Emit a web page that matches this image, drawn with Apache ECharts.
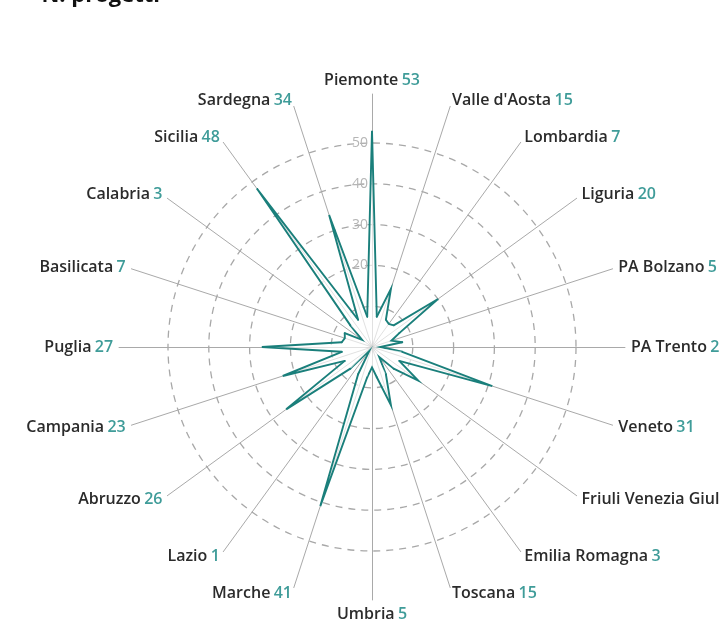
<!DOCTYPE html>
<html><head><meta charset="utf-8">
<script src="https://cdn.jsdelivr.net/npm/echarts@6/dist/echarts.min.js"></script>
<style>html,body{margin:0;padding:0;background:#fff}#c{width:720px;height:627px}</style>
</head><body><div id="c"></div>
<script>
// clockwise order starting at the top
const regions = ["Piemonte","Valle d'Aosta","Lombardia","Liguria","PA Bolzano","PA Trento","Veneto","Friuli Venezia Giulia","Emilia Romagna","Toscana","Umbria","Marche","Lazio","Abruzzo","Campania","Puglia","Basilicata","Calabria","Sicilia","Sardegna"];
const projects = [53,15,7,20,5,2,31,14,3,15,5,41,1,26,23,27,7,3,48,34];
const shownTickLabels = ["20","30","40","50"];
const axisMax = 62;
const ringMax = 50;

const n = regions.length;
const step = 360 / n;
// ECharts radar runs counter-clockwise: keep first item at top, reverse the rest
const order = [0].concat(regions.map((_,i)=>i).slice(1).reverse());
const indNames = order.map(i=>regions[i]);
const valueOf = {};
regions.forEach((r,i)=>valueOf[r]=projects[i]);

const font = '"Open Sans", "Noto Sans", sans-serif';
const center = [372, 347];
const unitPx = 4.08;
const spikeBase = 7.5;   // radius (in axis units) of the spike bases
const teal = '#1a7f7b';

const chart = echarts.init(document.getElementById('c'), null, {renderer:'canvas'});
chart.setOption({
  animation:false,
  backgroundColor:'#fff',
  title:{
    text:'{r|▪}  N. progetti', left:20, top:-20,
    textStyle:{fontFamily:font, fontSize:22, fontWeight:'bold', color:'#111',
      rich:{r:{color:'#e04040', fontSize:14, fontWeight:'bold'}}}
  },
  polar:[
    {center:center, radius:ringMax*unitPx, z:0},
    {center:center, radius:axisMax*unitPx, z:4}
  ],
  angleAxis:[
    {polarIndex:0, startAngle:90, show:false, min:0, max:360},
    {polarIndex:1, startAngle:90, clockwise:true, type:'value', show:false, min:0, max:360}
  ],
  radiusAxis:[
    {polarIndex:0, min:0, max:ringMax, interval:10, z:0,
      axisLine:{show:false}, axisTick:{show:false},
      axisLabel:{show:true, color:'#b5b5b5', fontFamily:font, fontSize:14,
        formatter:v=>shownTickLabels.includes(String(v))?String(v):'', margin:4},
      splitLine:{show:true, lineStyle:{color:'#a8a8a8', type:[7,6], width:1.3}}},
    {polarIndex:1, min:0, max:axisMax, show:false}
  ],
  radar:{
    center:center, radius:axisMax*unitPx, startAngle:90, shape:'polygon',
    indicator:indNames.map(r=>({name:r, min:0, max:axisMax})),
    splitNumber:1,
    splitLine:{show:false}, splitArea:{show:false},
    axisLine:{lineStyle:{color:'#a9a9a9', width:1}},
    axisName:{
      formatter:(name)=>'{n|'+name+'} {v|'+valueOf[name]+'}',
      rich:{
        n:{color:'#2b2b2b', fontFamily:font, fontSize:16, fontWeight:600},
        v:{color:'#3f9c99', fontFamily:font, fontSize:16, fontWeight:600}
      }
    },
    nameGap:6
  },
  series:[{
    type:'custom', coordinateSystem:'polar', polarIndex:1, z:5,
    data:projects.map((v,i)=>[v, i*step]),
    renderItem:(params, api)=>{
      const v = api.value(0), a = api.value(1);
      const tip = api.coord([v, a]);
      const p0 = api.coord([spikeBase, a - step/2]);
      const p1 = api.coord([spikeBase, a + step/2]);
      const c = api.coord([0, a]);
      return {type:'group', children:[
        {type:'polygon', shape:{points:[c, p0, tip, p1]},
          style:{fill:'rgba(255,255,255,0.65)', stroke:null}},
        {type:'polyline', shape:{points:[p0, tip, p1]},
          style:{stroke:teal, lineWidth:1.9, fill:null, lineJoin:'miter', lineCap:'round'}}
      ]};
    }
  }]
});
</script></body></html>
